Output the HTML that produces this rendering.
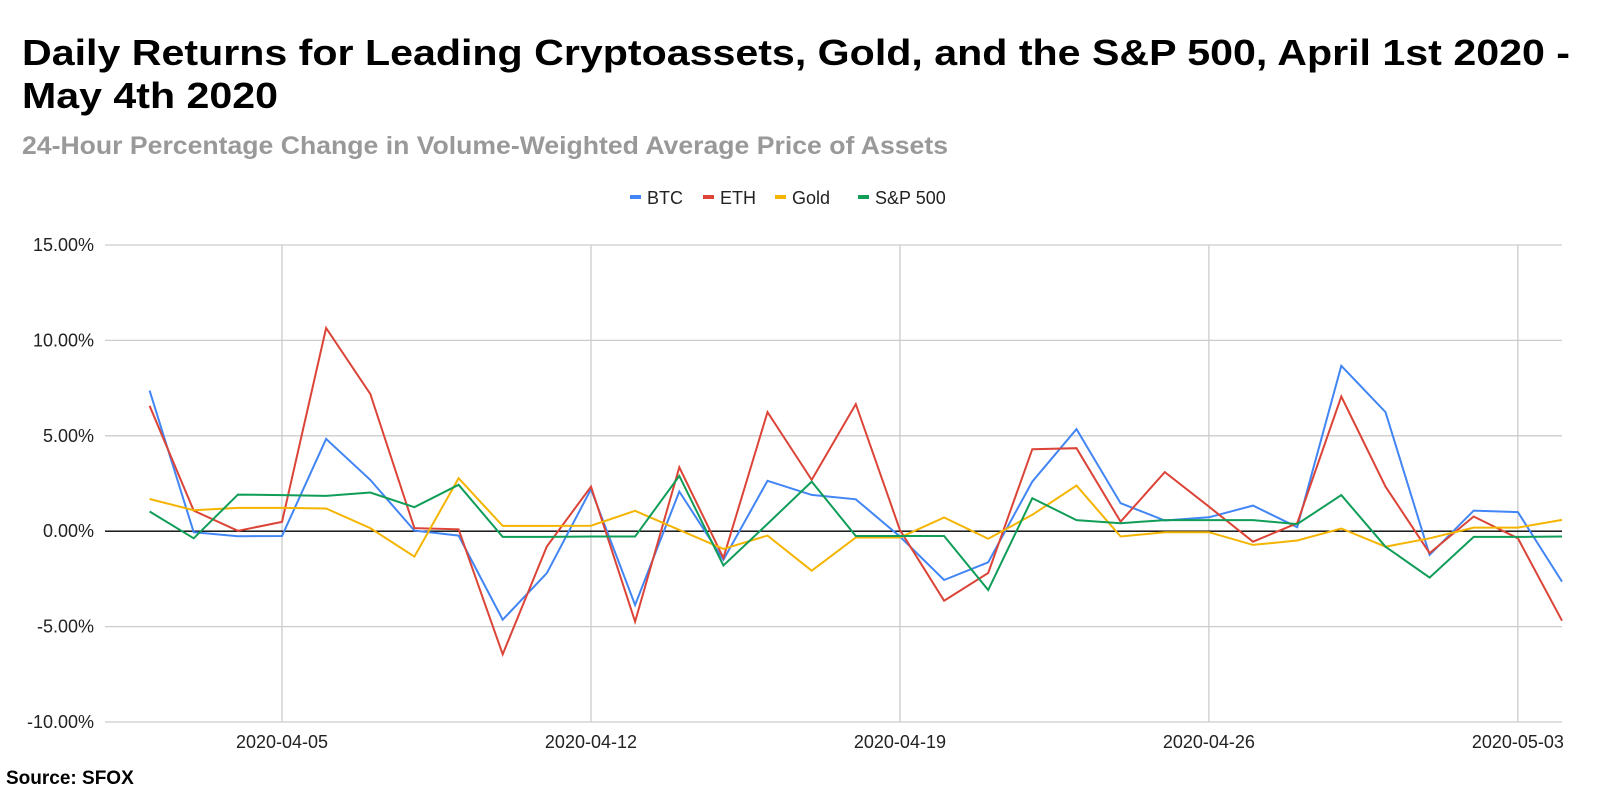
<!DOCTYPE html>
<html><head><meta charset="utf-8"><style>
html,body{margin:0;padding:0;background:#fff;}
svg{display:block;font-family:"Liberation Sans",sans-serif;}
</style></head><body>
<svg id="chart" width="1600" height="791" viewBox="0 0 1600 791" xmlns="http://www.w3.org/2000/svg">
<text x="22" y="65" font-size="36" font-weight="bold" fill="#000" textLength="1548" lengthAdjust="spacingAndGlyphs">Daily Returns for Leading Cryptoassets, Gold, and the S&amp;P 500, April 1st 2020 -</text>
<text x="22" y="108" font-size="36" font-weight="bold" fill="#000" textLength="256" lengthAdjust="spacingAndGlyphs">May 4th 2020</text>
<text x="22" y="154" font-size="25" font-weight="bold" fill="#999" textLength="926" lengthAdjust="spacingAndGlyphs">24-Hour Percentage Change in Volume-Weighted Average Price of Assets</text>
<g id="legend"></g>
<g id="grid"></g>
<g id="yaxis"></g>
<g id="xaxis"></g>
<g id="series"></g>
<text x="6" y="784" font-size="19" font-weight="bold" fill="#000">Source: SFOX</text>
</svg>
<script>
const dates = ["2020-04-02","2020-04-03","2020-04-04","2020-04-05","2020-04-06","2020-04-07","2020-04-08","2020-04-09","2020-04-10","2020-04-11","2020-04-12","2020-04-13","2020-04-14","2020-04-15","2020-04-16","2020-04-17","2020-04-18","2020-04-19","2020-04-20","2020-04-21","2020-04-22","2020-04-23","2020-04-24","2020-04-25","2020-04-26","2020-04-27","2020-04-28","2020-04-29","2020-04-30","2020-05-01","2020-05-02","2020-05-03","2020-05-04"];
const btc = [7.37,-0.05,-0.26,-0.25,4.84,2.69,0.03,-0.23,-4.64,-2.2,2.2,-3.87,2.08,-1.5,2.64,1.9,1.67,-0.28,-2.56,-1.63,2.6,5.35,1.47,0.56,0.73,1.34,0.21,8.67,6.24,-1.24,1.08,1.0,-2.64];
const eth = [6.57,1.08,0.02,0.49,10.65,7.19,0.16,0.1,-6.45,-0.8,2.34,-4.74,3.35,-1.4,6.24,2.69,6.66,0.07,-3.64,-2.19,4.3,4.35,0.5,3.1,1.29,-0.55,0.42,7.06,2.34,-1.15,0.77,-0.37,-4.69];
const gold = [1.69,1.1,1.22,1.22,1.19,0.16,-1.33,2.78,0.28,0.28,0.29,1.07,0.07,-0.93,-0.23,-2.07,-0.33,-0.33,0.72,-0.4,0.86,2.39,-0.28,-0.05,-0.05,-0.72,-0.49,0.14,-0.81,-0.37,0.19,0.19,0.59];
const sp500 = [1.03,-0.37,1.92,1.89,1.85,2.03,1.26,2.43,-0.3,-0.3,-0.28,-0.28,2.9,-1.8,0.38,2.6,-0.25,-0.25,-0.25,-3.08,1.73,0.58,0.42,0.58,0.58,0.58,0.37,1.89,-0.81,-2.43,-0.3,-0.3,-0.28];
const yTicks = [15,10,5,0,-5,-10];
const xTickLabels = ["2020-04-05","2020-04-12","2020-04-19","2020-04-26","2020-05-03"];
const seriesNames = ["BTC","ETH","Gold","S&P 500"];

const NS = "http://www.w3.org/2000/svg";
const L = 105, R = 1562, T = 245, B = 722;
const yMin = -10, yMax = 15;
const x0 = 149.6, dx = (R - x0) / (dates.length - 1);
function xScale(i){ return x0 + i * dx; }
function yScale(v){ return B - (v - yMin) / (yMax - yMin) * (B - T); }
function mk(tag, attrs, parent){ const e = document.createElementNS(NS, tag); for (const k in attrs) e.setAttribute(k, attrs[k]); parent.appendChild(e); return e; }

const grid = document.getElementById('grid');
const yaxis = document.getElementById('yaxis');
yTicks.forEach(t => {
  const y = yScale(t);
  if (t !== 0) {
    const ln = mk('line', {x1:L, x2:R, y1:y, y2:y, stroke:'#ccc', 'stroke-width':1.3}, grid);
    
    
  }
  const tx = mk('text', {x:94, y:y+6, 'text-anchor':'end', 'font-size':18, fill:'#222'}, yaxis);
  tx.textContent = t.toFixed(2) + '%';
  
  
});
const xaxis = document.getElementById('xaxis');
xTickLabels.forEach(lbl => {
  const i = dates.indexOf(lbl);
  const x = xScale(i);
  const ln = mk('line', {x1:x, x2:x, y1:T, y2:B, stroke:'#ccc', 'stroke-width':1.3}, grid);
  
  
  const tx = mk('text', {x:x, y:748, 'text-anchor':'middle', 'font-size':18, fill:'#222'}, xaxis);
  tx.textContent = lbl;
  
  
});
const zl = mk('line', {x1:L, x2:R, y1:yScale(0), y2:yScale(0), stroke:'#000', 'stroke-width':1.3}, grid);



const colors = ['#4285F4','#DB4437','#F4B400','#0F9D58'];
const data = [btc, eth, gold, sp500];
const seriesG = document.getElementById('series');
data.forEach((arr, s) => {
  const pts = arr.map((v, i) => xScale(i).toFixed(1) + ',' + yScale(v).toFixed(1)).join(' ');
  const pl = mk('polyline', {points:pts, fill:'none', stroke:colors[s], 'stroke-width':2, 'stroke-linejoin':'miter'}, seriesG);
  
  
});

const legend = document.getElementById('legend');
const legX = [630, 703, 775, 858];
seriesNames.forEach((n, s) => {
  const g = mk('g', {}, legend);
  
  
  mk('rect', {x:legX[s], y:195, width:11, height:4, fill:colors[s]}, g);
  const t = mk('text', {x:legX[s]+17, y:204, 'font-size':18, fill:'#222'}, g);
  t.textContent = n;
});
</script>
</body></html>
